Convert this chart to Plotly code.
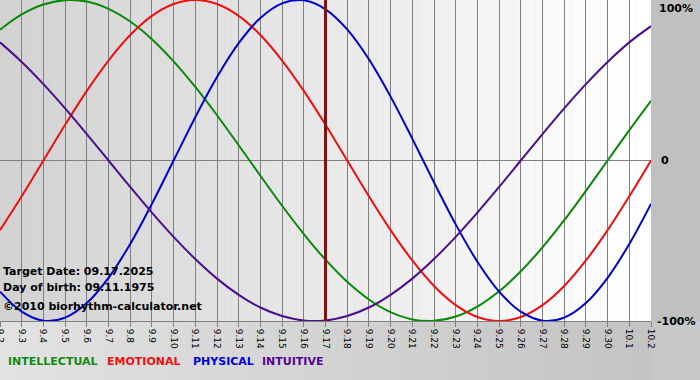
import plotly.graph_objects as go

# ---- data ----
day_labels = ["9.2", "9.3", "9.4", "9.5", "9.6", "9.7", "9.8", "9.9", "9.10", "9.11",
              "9.12", "9.13", "9.14", "9.15", "9.16", "9.17", "9.18", "9.19", "9.20",
              "9.21", "9.22", "9.23", "9.24", "9.25", "9.26", "9.27", "9.28", "9.29",
              "9.30", "10.1", "10.2"]
intellectual = [81.5, 91.0, 97.2, 99.9, 99.0, 94.5, 86.6, 75.6, 61.8, 45.8, 28.2, 9.5,
                -9.5, -28.2, -45.8, -61.8, -75.6, -86.6, -94.5, -99.0, -99.9, -97.2,
                -91.0, -81.5, -69.0, -54.1, -37.2, -18.9, 0.0, 18.9, 37.2]
emotional = [-43.4, -22.3, 0.0, 22.3, 43.4, 62.3, 78.2, 90.1, 97.5, 100.0, 97.5, 90.1,
             78.2, 62.3, 43.4, 22.3, 0.0, -22.3, -43.4, -62.3, -78.2, -90.1, -97.5,
             -100.0, -97.5, -90.1, -78.2, -62.3, -43.4, -22.3, 0.0]
physical = [-81.7, -94.2, -99.8, -97.9, -88.8, -73.1, -52.0, -27.0, 0.0, 27.0, 52.0,
            73.1, 88.8, 97.9, 99.8, 94.2, 81.7, 63.1, 39.8, 13.6, -13.6, -39.8, -63.1,
            -81.7, -94.2, -99.8, -97.9, -88.8, -73.1, -52.0, -27.0]
intuitive = [73.6, 61.4, 47.6, 32.5, 16.5, 0.0, -16.5, -32.5, -47.6, -61.4, -73.6,
             -83.7, -91.6, -96.9, -99.7, -99.7, -96.9, -91.6, -83.7, -73.6, -61.4,
             -47.6, -32.5, -16.5, 0.0, 16.5, 32.5, 47.6, 61.4, 73.6, 83.7]
series_names = ["INTELLECTUAL", "EMOTIONAL", "PHYSICAL", "INTUITIVE"]
series_colors = ["#0a880a", "#ee1010", "#0000cc", "#4a0f8a"]
legend_colors = ["#118811", "#ee1111", "#0000dd", "#550099"]
target_index = 15  # 9.17
y_labels = ["100%", "0", "-100%"]

x = list(range(len(day_labels)))
fig = go.Figure()

W, H = 700, 380
ML, MR, MT, MB = 0, 49, 0, 59
PW, PH = W - ML - MR, H - MT - MB

def grey(v):
    v = max(0, min(255, int(round(v))))
    return f"rgb({v},{v},{v})"

shapes = []
# outer background: bottom band gradient (light left -> darker right)
n = 70
for i in range(n):
    x0 = i / n
    x1 = (i + 1) / n + 0.002
    shapes.append(dict(type="rect", xref="paper", yref="paper", x0=x0, x1=x1,
                       y0=-MB / PH - 0.01, y1=0, line=dict(width=0),
                       fillcolor=grey(226 - 30 * (i / (n - 1))), layer="below"))
# right strip beside the plot
shapes.append(dict(type="rect", xref="paper", yref="paper", x0=1, x1=1 + MR / PW + 0.01,
                   y0=0, y1=1.01, line=dict(width=0), fillcolor="#c0c0c0", layer="below"))
# plot area gradient (grey left -> white right)
n = 90
span = len(x) - 1
for i in range(n):
    x0 = span * i / n
    x1 = span * (i + 1) / n + 0.01
    shapes.append(dict(type="rect", xref="x", yref="paper", x0=x0, x1=x1, y0=0, y1=1,
                       line=dict(width=0), fillcolor=grey(210 + 46 * (i / (n - 1))),
                       layer="below"))

for name, vals, col in zip(series_names, [intellectual, emotional, physical, intuitive],
                           series_colors):
    fig.add_trace(go.Scatter(x=x, y=vals, mode="lines", name=name,
                             line=dict(color=col, width=2, shape="spline", smoothing=1.0),
                             hoverinfo="skip"))

# target date marker line
shapes.append(dict(type="line", xref="x", yref="paper", x0=x[target_index],
                   x1=x[target_index], y0=0, y1=1,
                   line=dict(color="#7d1515", width=3), layer="above"))

annotations = []
# y labels
y_px = [8, 161, 321]
y_x = [657, 659, 655]
for lab, py, px in zip(y_labels, y_px, y_x):
    annotations.append(dict(text=f"<b>{lab}</b>", x=px / PW, xref="paper",
                            y=(PH - py) / PH, yref="paper",
                            xanchor="left", yanchor="middle",
                            showarrow=False, font=dict(family="DejaVu Sans", size=11,
                                                       color="black")))
# info texts
info = ["Target Date: 09.17.2025", "Day of birth: 09.11.1975",
        "\u00a92010 biorhythm-calculator.net"]
info_y = [271, 287, 306]
for t, py in zip(info, info_y):
    annotations.append(dict(text=f"<b>{t}</b>", x=1 / PW, xref="paper",
                            y=(PH - py) / PH, yref="paper", xanchor="left",
                            yanchor="middle", showarrow=False,
                            font=dict(family="DejaVu Sans", size=11, color="black")))
# legend words
leg_x = [6, 105, 191, 260]
for t, px, c in zip(series_names, leg_x, legend_colors):
    annotations.append(dict(text=f"<b>{t}</b>", x=px / PW, xref="paper",
                            y=(PH - 361) / PH, yref="paper", xanchor="left",
                            yanchor="middle", showarrow=False,
                            font=dict(family="DejaVu Sans", size=11, color=c)))

fig.update_layout(
    width=W, height=H,
    margin=dict(l=ML, r=MR, t=MT, b=MB, pad=0, autoexpand=False),
    paper_bgcolor="#c8c8c8",
    plot_bgcolor="rgba(0,0,0,0)",
    showlegend=False,
    shapes=shapes,
    annotations=annotations,
    xaxis=dict(range=[0, span], tickmode="array", tickvals=x, ticktext=day_labels,
               tickangle=90, ticks="outside", ticklen=5, tickcolor="#808080",
               tickfont=dict(family="DejaVu Sans", size=9, color="black"),
               ticklabeloverflow="allow",
               showgrid=True, gridcolor="#808080", gridwidth=1,
               showline=True, linecolor="#808080", linewidth=1,
               zeroline=False, fixedrange=True, automargin=False),
    yaxis=dict(range=[-100, 100], showticklabels=False, ticks="", showgrid=False,
               zeroline=True, zerolinecolor="#808080", zerolinewidth=1,
               fixedrange=True, automargin=False),
)

fig.write_html("out.html", config={"displayModeBar": False},
               post_script="document.body.style.margin='0';document.body.style.padding='0';")
